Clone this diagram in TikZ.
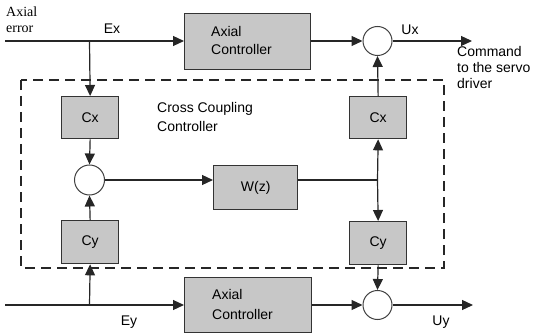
\documentclass[tikz,border=0pt]{standalone}
\usepackage{fontspec}
\setmainfont{Liberation Sans}
\newfontfamily\serifface{Liberation Serif}
\usetikzlibrary{arrows.meta}
\begin{document}
\begin{tikzpicture}[x=1pt,y=-1pt,
  font=\fontsize{14}{17}\selectfont,
  block/.style={draw=black!80,line width=1.3pt,fill=black!22,inner sep=0pt,anchor=north west},
  sumjn/.style={circle,draw=black!75,line width=1pt,fill=white,minimum size=#1,inner sep=0pt},
  sig/.style={line width=1.2pt,draw=black!85},
  arr/.style={sig,-{Triangle[length=11pt,width=10pt]}},
  lbl/.style={inner sep=0pt,anchor=center}]
\useasboundingbox (0,0) rectangle (533,334);

% cross coupling controller boundary
\draw[line width=2.2pt,dash pattern=on 10pt off 6pt,black!85] (21,80) rectangle (444,268);

% axial controllers
\node[block,minimum width=126pt,minimum height=56pt] (acx) at (184,13) {};
\node[anchor=west,align=left,inner sep=0pt,font=\fontsize{14}{18}\selectfont] at (211,40) {Axial\\Controller};
\node[block,minimum width=127pt,minimum height=55pt] (acy) at (184,277) {};
\node[anchor=west,align=left,inner sep=0pt,font=\fontsize{14}{20}\selectfont] at (212,304) {Axial\\Controller};

% gain blocks
\node[block,minimum width=57pt,minimum height=42pt] (cx1) at (61,96) {};
\node[lbl] at (cx1.center) {Cx};
\node[block,minimum width=57pt,minimum height=42pt] (cx2) at (349,96) {};
\node[lbl] at (cx2.center) {Cx};
\node[block,minimum width=57pt,minimum height=43pt] (cy1) at (61,220) {};
\node[lbl] at (cy1.center) {Cy};
\node[block,minimum width=57pt,minimum height=43pt] (cy2) at (349,221) {};
\node[lbl] at (cy2.center) {Cy};
\node[block,minimum width=84pt,minimum height=44pt] (wz) at (213,165) {};
\node[lbl] at (wz.center) {W(z)};

% summing junctions
\node[sumjn=29pt] (sx) at (377.5,41) {};
\node[sumjn=30pt] (sc) at (89.5,180) {};
\node[sumjn=29pt] (sy) at (377.5,305) {};

% free ends and branch points
\coordinate (inx) at (5,41);
\coordinate (brx) at (89.5,41);
\coordinate (outx) at (472,41);
\coordinate (iny) at (5,305);
\coordinate (bry) at (89.5,305);
\coordinate (outy) at (473,305);
\coordinate (jw) at (377.5,180);

% x channel
\draw[arr] (inx) -- (acx.west |- inx);
\draw[arr] (brx) -- (cx1.north);
\draw[arr] (acx.east |- sx) -- (sx.west);
\draw[arr] (sx.east) -- (outx);
\draw[arr] (cx2.north) -- (sx.south);

% coupling path
\draw[arr] (cx1.south) -- (sc.north);
\draw[arr] (cy1.north) -- (sc.south);
\draw[arr] (sc.east) -- (wz.west |- sc);
\draw[sig] (wz.east |- jw) -- (jw);
\draw[arr] (jw) -- (cx2.south);
\draw[arr] (jw) -- (cy2.north);

% y channel
\draw[arr] (iny) -- (acy.west |- iny);
\draw[arr] (bry) -- (cy1.south);
\draw[arr] (acy.east |- sy) -- (sy.west);
\draw[arr] (sy.east) -- (outy);
\draw[arr] (cy2.south) -- (sy.north);

% signal labels
\node[lbl] (ex) at (112,29) {Ex};
\node[lbl] (ux) at (410,30) {Ux};
\node[lbl] (ey) at (129,322) {Ey};
\node[lbl] (uy) at (441,322) {Uy};
\node[anchor=north west,inner sep=0pt,align=left,font=\serifface\fontsize{14}{16}\selectfont] (axerr) at (6,7) {Axial\\error};
\node[anchor=north west,inner sep=0pt,align=left,font=\fontsize{14}{16}\selectfont] (cmd) at (457,46) {Command\\to the servo\\driver};
\node[anchor=north west,inner sep=0pt,align=left,font=\fontsize{14}{19}\selectfont] (ccc) at (157,102) {Cross Coupling\\Controller};
\end{tikzpicture}
\end{document}
